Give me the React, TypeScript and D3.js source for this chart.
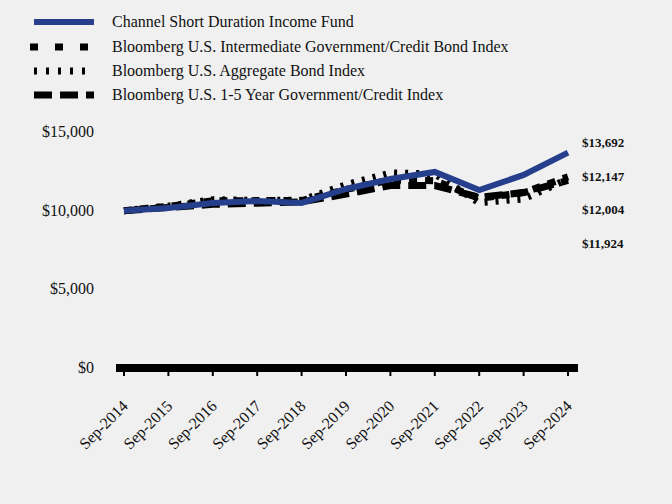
import React from "react";
import * as d3 from "d3";

const years = ["Sep-2014","Sep-2015","Sep-2016","Sep-2017","Sep-2018","Sep-2019","Sep-2020","Sep-2021","Sep-2022","Sep-2023","Sep-2024"];
const fund = [10000, 10170, 10490, 10610, 10490, 11380, 12010, 12460, 11310, 12270, 13692];
const interm = [10000, 10280, 10620, 10640, 10640, 11350, 11950, 11900, 10780, 11150, 12147];
const aggregate = [10000, 10290, 10700, 10650, 10660, 11650, 12400, 12330, 10500, 10750, 12004];
const oneFive = [10000, 10200, 10400, 10470, 10560, 11050, 11600, 11600, 10850, 11150, 11924];
const yTicks = [0, 5000, 10000, 15000];
const endLabels = ["$13,692", "$12,147", "$12,004", "$11,924"];
const legendNames = [
  "Channel Short Duration Income Fund",
  "Bloomberg U.S. Intermediate Government/Credit Bond Index",
  "Bloomberg U.S. Aggregate Bond Index",
  "Bloomberg U.S. 1-5 Year Government/Credit Index",
];

export default function App() {
  const W = 672, H = 504;
  const x = d3.scalePoint<string>().domain(years).range([124, 568]);
  const y = d3.scaleLinear().domain([0, 15000]).range([368, 132]);
  const line = d3.line<number>().x((_, i) => x(years[i])!).y((d) => y(d));
  const font = "'Liberation Serif', 'Times New Roman', serif";
  const series = [
    { data: aggregate, stroke: "#000", width: 7, dash: "3,8" },
    { data: interm, stroke: "#000", width: 7, dash: "8,8" },
    { data: oneFive, stroke: "#000", width: 7, dash: "18,8" },
    { data: fund, stroke: "#253f8c", width: 6, dash: undefined as string | undefined },
  ];
  const legendStyles = [
    { stroke: "#253f8c", width: 6, dash: undefined as string | undefined, x1: 34 },
    { stroke: "#000", width: 7, dash: "8,17", x1: 30 },
    { stroke: "#000", width: 7, dash: "3,9", x1: 34 },
    { stroke: "#000", width: 7, dash: "18,8", x1: 34 },
  ];
  const legendY = [22, 47, 71, 95];
  return (
    <svg width={W} height={H} style={{ position: "absolute", left: 0, top: 0, background: "#f0f0f0" }} fontFamily={font}>
      <rect x={0} y={0} width={W} height={H} fill="#f0f0f0" />
      {legendNames.map((n, i) => (
        <g key={n}>
          <line x1={legendStyles[i].x1} x2={94} y1={legendY[i]} y2={legendY[i]} stroke={legendStyles[i].stroke}
            strokeWidth={legendStyles[i].width} strokeDasharray={legendStyles[i].dash} />
          <text x={112} y={legendY[i] + 5} fontSize={16} fill="#111">{n}</text>
        </g>
      ))}
      {yTicks.map((t) => (
        <text key={t} x={94} y={y(t) + 5} fontSize={16} textAnchor="end" fill="#111">
          {d3.format("$,")(t)}
        </text>
      ))}
      {series.map((s, i) => (
        <path key={i} d={line(s.data)!} fill="none" stroke={s.stroke} strokeWidth={s.width}
          strokeDasharray={s.dash} strokeLinejoin="miter" />
      ))}
      <rect x={116} y={364} width={462} height={8} fill="#000" />
      {years.map((yr) => (
        <g key={yr}>
          <line x1={x(yr)!} x2={x(yr)!} y1={372} y2={376} stroke="#000" strokeWidth={2} />
          <text transform={`translate(${x(yr)! + 5},${407}) rotate(-45)`} textAnchor="end" fontSize={16} fill="#111">
            {yr}
          </text>
        </g>
      ))}
      {endLabels.map((l, i) => (
        <text key={l} x={582} y={147 + i * 33.7} fontSize={13} fontWeight="bold" fill="#111">{l}</text>
      ))}
    </svg>
  );
}
